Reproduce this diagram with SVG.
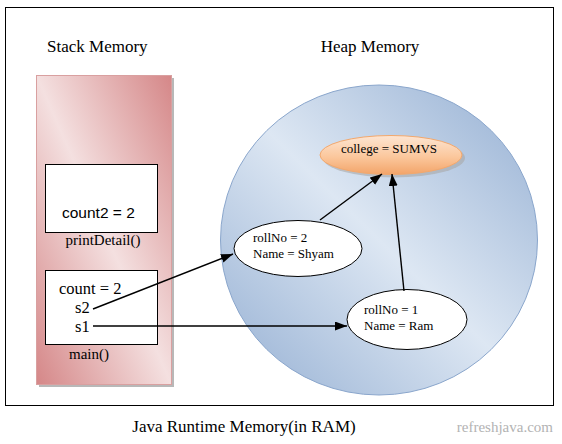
<svg xmlns="http://www.w3.org/2000/svg" width="562" height="444" viewBox="0 0 562 444">
<style>
.serif{font-family:"Liberation Serif","Times New Roman",serif;fill:#000}
.sans{font-family:"Liberation Sans",Arial,sans-serif;fill:#000}
.box{fill:#fff;stroke:#000;stroke-width:1}
.obj{fill:#fff;stroke:#000;stroke-width:1}
.conn{stroke:#000;stroke-width:1.4;fill:none;marker-end:url(#arr)}
</style>
<defs>
<marker id="arr" markerUnits="userSpaceOnUse" markerWidth="13" markerHeight="10" refX="12" refY="4.5" orient="auto">
<path d="M0,0 L12,4.5 L0,9 Z" fill="#000"/>
</marker>
<linearGradient id="pink" x1="0" y1="1" x2="1" y2="0">
<stop offset="0" stop-color="#d58788"/>
<stop offset="0.5" stop-color="#f4e0e0"/>
<stop offset="1" stop-color="#d58788"/>
</linearGradient>
<linearGradient id="blue" x1="0" y1="1" x2="1" y2="0">
<stop offset="0" stop-color="#93aed2"/>
<stop offset="0.5" stop-color="#dde7f3"/>
<stop offset="1" stop-color="#93aed2"/>
</linearGradient>
<linearGradient id="orange" x1="0" y1="0" x2="0" y2="1">
<stop offset="0" stop-color="#fde5d2"/>
<stop offset="0.55" stop-color="#fbc79c"/>
<stop offset="1" stop-color="#f3a469"/>
</linearGradient>
</defs>
<rect x="0" y="0" width="562" height="444" fill="#fff"/>
<rect x="5.5" y="7.5" width="548" height="398" fill="none" stroke="#000" stroke-width="1"/>
<text class="serif" x="47" y="52" font-size="17">Stack Memory</text>
<text class="serif" x="370" y="52" font-size="17" text-anchor="middle">Heap Memory</text>
<g id="stack">
<rect x="39" y="78" width="135" height="309" fill="#9a9a9a" opacity="0.7"/>
<rect x="36.5" y="75.5" width="135" height="309" fill="url(#pink)" stroke="#d9a0a0" stroke-width="1"/>
</g>
<g id="printDetail">
<rect class="box" x="45.5" y="164.5" width="112" height="68"/>
<text class="sans" x="62" y="218" font-size="15.5">count2 = 2</text>
<text class="serif" x="103" y="245" font-size="15" text-anchor="middle">printDetail()</text>
</g>
<g id="main">
<rect class="box" x="45.5" y="270.5" width="112" height="74"/>
<text class="serif" x="59" y="294" font-size="16.5">count = 2</text>
<text class="serif" x="75" y="313" font-size="16.5">s2</text>
<text class="serif" x="75" y="332" font-size="16.5">s1</text>
<text class="serif" x="89" y="359" font-size="15" text-anchor="middle">main()</text>
</g>
<g id="heap">
<ellipse cx="379" cy="240" rx="158.5" ry="155" fill="url(#blue)" stroke="#8aa6cc" stroke-width="1"/>
</g>
<g id="college">
<ellipse cx="394" cy="158" rx="71" ry="19.5" fill="#a8a8a8" opacity="0.6"/>
<ellipse cx="391" cy="155" rx="71" ry="19.5" fill="url(#orange)" stroke="#f2a86e" stroke-width="1"/>
<text class="serif" x="389" y="153" font-size="13" text-anchor="middle">college = SUMVS</text>
</g>
<g id="obj2">
<ellipse class="obj" cx="298" cy="248.5" rx="64" ry="28"/>
<text class="serif" x="253" y="242" font-size="13">rollNo = 2</text>
<text class="serif" x="253" y="258" font-size="13">Name = Shyam</text>
</g>
<g id="obj1">
<ellipse class="obj" cx="407" cy="319.5" rx="60" ry="30"/>
<text class="serif" x="364" y="314" font-size="13">rollNo = 1</text>
<text class="serif" x="364" y="330" font-size="13">Name = Ram</text>
</g>
<g id="connectors">
<line class="conn" x1="93" y1="309" x2="233" y2="254"/>
<line class="conn" x1="93" y1="326" x2="347" y2="326"/>
<line class="conn" x1="320" y1="220" x2="382" y2="174"/>
<line class="conn" x1="404" y1="291" x2="392" y2="174"/>
</g>
<text class="serif" x="244" y="432" font-size="17" text-anchor="middle">Java Runtime Memory(in RAM)</text>
<text x="553" y="432" font-size="15" text-anchor="end" font-family="'Liberation Serif','Times New Roman',serif" fill="#b3b3b3">refreshjava.com</text>
</svg>
